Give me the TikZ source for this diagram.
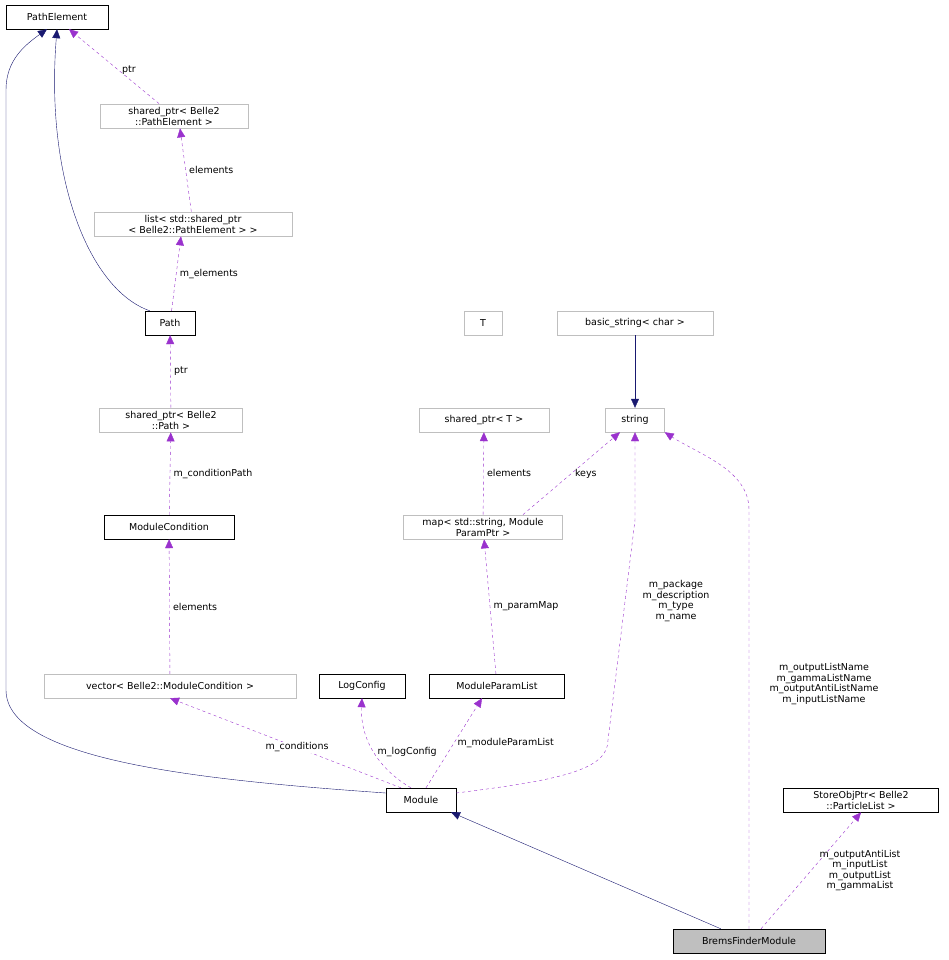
\documentclass[tikz,border=0pt]{standalone}
\usepackage{fontspec}
\setmainfont{DejaVu Sans}
\usetikzlibrary{arrows.meta}
\definecolor{navy}{HTML}{191970}
\definecolor{purp}{HTML}{9A32CD}
\definecolor{boxgray}{HTML}{BFBFBF}
\tikzset{
  cls/.style={draw=black, fill=white, inner sep=3pt, minimum height=24pt, align=center, font=\fontsize{9.5}{11}\selectfont},
  ext/.style={cls, draw=boxgray},
  inh/.style={navy, -{Triangle[length=9pt,width=8pt]}},
  use/.style={purp, dashed, -{Triangle[length=9pt,width=8pt]}},
  lbl/.style={black, font=\fontsize{9.5}{10.5}\selectfont, align=center}
}
\begin{document}
\begin{tikzpicture}[x=1pt, y=-1pt]
\useasboundingbox (0,0) rectangle (948,960);
% Nodos
\node [cls, minimum width=102pt] (PathElement) at (57,17) {PathElement};
\node [ext, minimum width=148pt] (SPElem) at (174,116) {shared\_ptr< Belle2\\::PathElement >};
\node [ext, minimum width=198pt] (ListElem) at (193,224) {list< std::shared\_ptr\\< Belle2::PathElement > >};
\node [cls, minimum width=50pt] (Path) at (170,323) {Path};
\node [ext, minimum width=143pt] (SPPath) at (171,420) {shared\_ptr< Belle2\\::Path >};
\node [cls, minimum width=130pt] (ModCond) at (169,527) {ModuleCondition};
\node [ext, minimum width=252pt] (VecCond) at (170,686) {vector< Belle2::ModuleCondition >};
\node [cls, minimum width=86pt] (LogConfig) at (362,686) {LogConfig};
\node [cls, minimum width=135pt] (ParamList) at (497,686) {ModuleParamList};
\node [cls, minimum width=70pt] (Module) at (421,800) {Module};
\node [ext, minimum width=38pt] (T) at (483,323) {T};
\node [ext, minimum width=130pt] (SPT) at (484,420) {shared\_ptr< T >};
\node [ext, minimum width=159pt] (Map) at (483,527) {map< std::string, Module\\ParamPtr >};
\node [ext, minimum width=156pt] (BasicStr) at (635,323) {basic\_string< char >};
\node [ext, minimum width=59pt] (String) at (635,420) {string};
\node [cls, minimum width=155pt] (StoreObj) at (861,800) {StoreObjPtr< Belle2\\::ParticleList >};
\node [cls, fill=boxgray, minimum width=152pt] (Brems) at (749,941) {BremsFinderModule};
% Herencia
\draw [inh] (Path.north west) ++(5,0) .. controls (90,290) and (45,180) .. (PathElement.south);
\draw [inh] (Module.west) ++(0,-7) .. controls (200,780) and (6,760) .. (6,690) -- (6,90) .. controls (6,60) and (25,45) .. ([xshift=-10pt]PathElement.south);
\draw [inh] (BasicStr) -- (String);
\draw [inh] (Brems.north west) ++(48,0) -- ([xshift=30pt]Module.south);
% Uso
\path (SPElem) edge [use] node [lbl, right, pos=0.45] {ptr} ([xshift=12pt]PathElement.south);
\path (ListElem) edge [use] node [lbl, right] {elements} ([xshift=6pt]SPElem.south);
\path (Path) edge [use] node [lbl, right] {m\_elements} ([xshift=-12pt]ListElem.south);
\path (SPPath) edge [use] node [lbl, right] {ptr} (Path);
\path (ModCond) edge [use] node [lbl, right] {m\_conditionPath} (SPPath);
\path (VecCond) edge [use] node [lbl, right] {elements} (ModCond);
\path ([xshift=-20pt]Module.north) edge [use] node [lbl, pos=0.45, fill=white, inner sep=1pt] {m\_conditions} (VecCond.south);
\draw [use] ([xshift=-10pt]Module.north) .. controls (380,770) and (360,740) .. node [lbl, right, pos=0.5] {m\_logConfig} (LogConfig.south);
\path ([xshift=5pt]Module.north) edge [use] node [lbl, right, pos=0.5] {m\_moduleParamList} ([xshift=-15pt]ParamList.south);
\path (ParamList) edge [use] node [lbl, right] {m\_paramMap} (Map);
\path (Map) edge [use] node [lbl, right] {elements} (SPT);
\path (Map.north) ++(40,0) edge [use] node [lbl, right, pos=0.5] {keys} ([xshift=-15pt]String.south);
\draw [use] (Module.east) ++(0,-7) .. controls (560,780) and (608,770) .. (608,740) -- (635,520) -- (String.south);
\node [lbl] (LblPkg) at (676,601) {m\_package\\m\_description\\m\_type\\m\_name};
\draw [use] (Brems.north) -- (749,510) .. controls (749,470) and (700,455) .. (String.south east);
\node [lbl] (LblBrems) at (824,684) {m\_outputListName\\m\_gammaListName\\m\_outputAntiListName\\m\_inputListName};
\path (Brems.north) ++(12,0) edge [use] node [lbl, right, pos=0.5, xshift=5pt] {m\_outputAntiList\\m\_inputList\\m\_outputList\\m\_gammaList} (StoreObj.south);
\end{tikzpicture}
\end{document}
